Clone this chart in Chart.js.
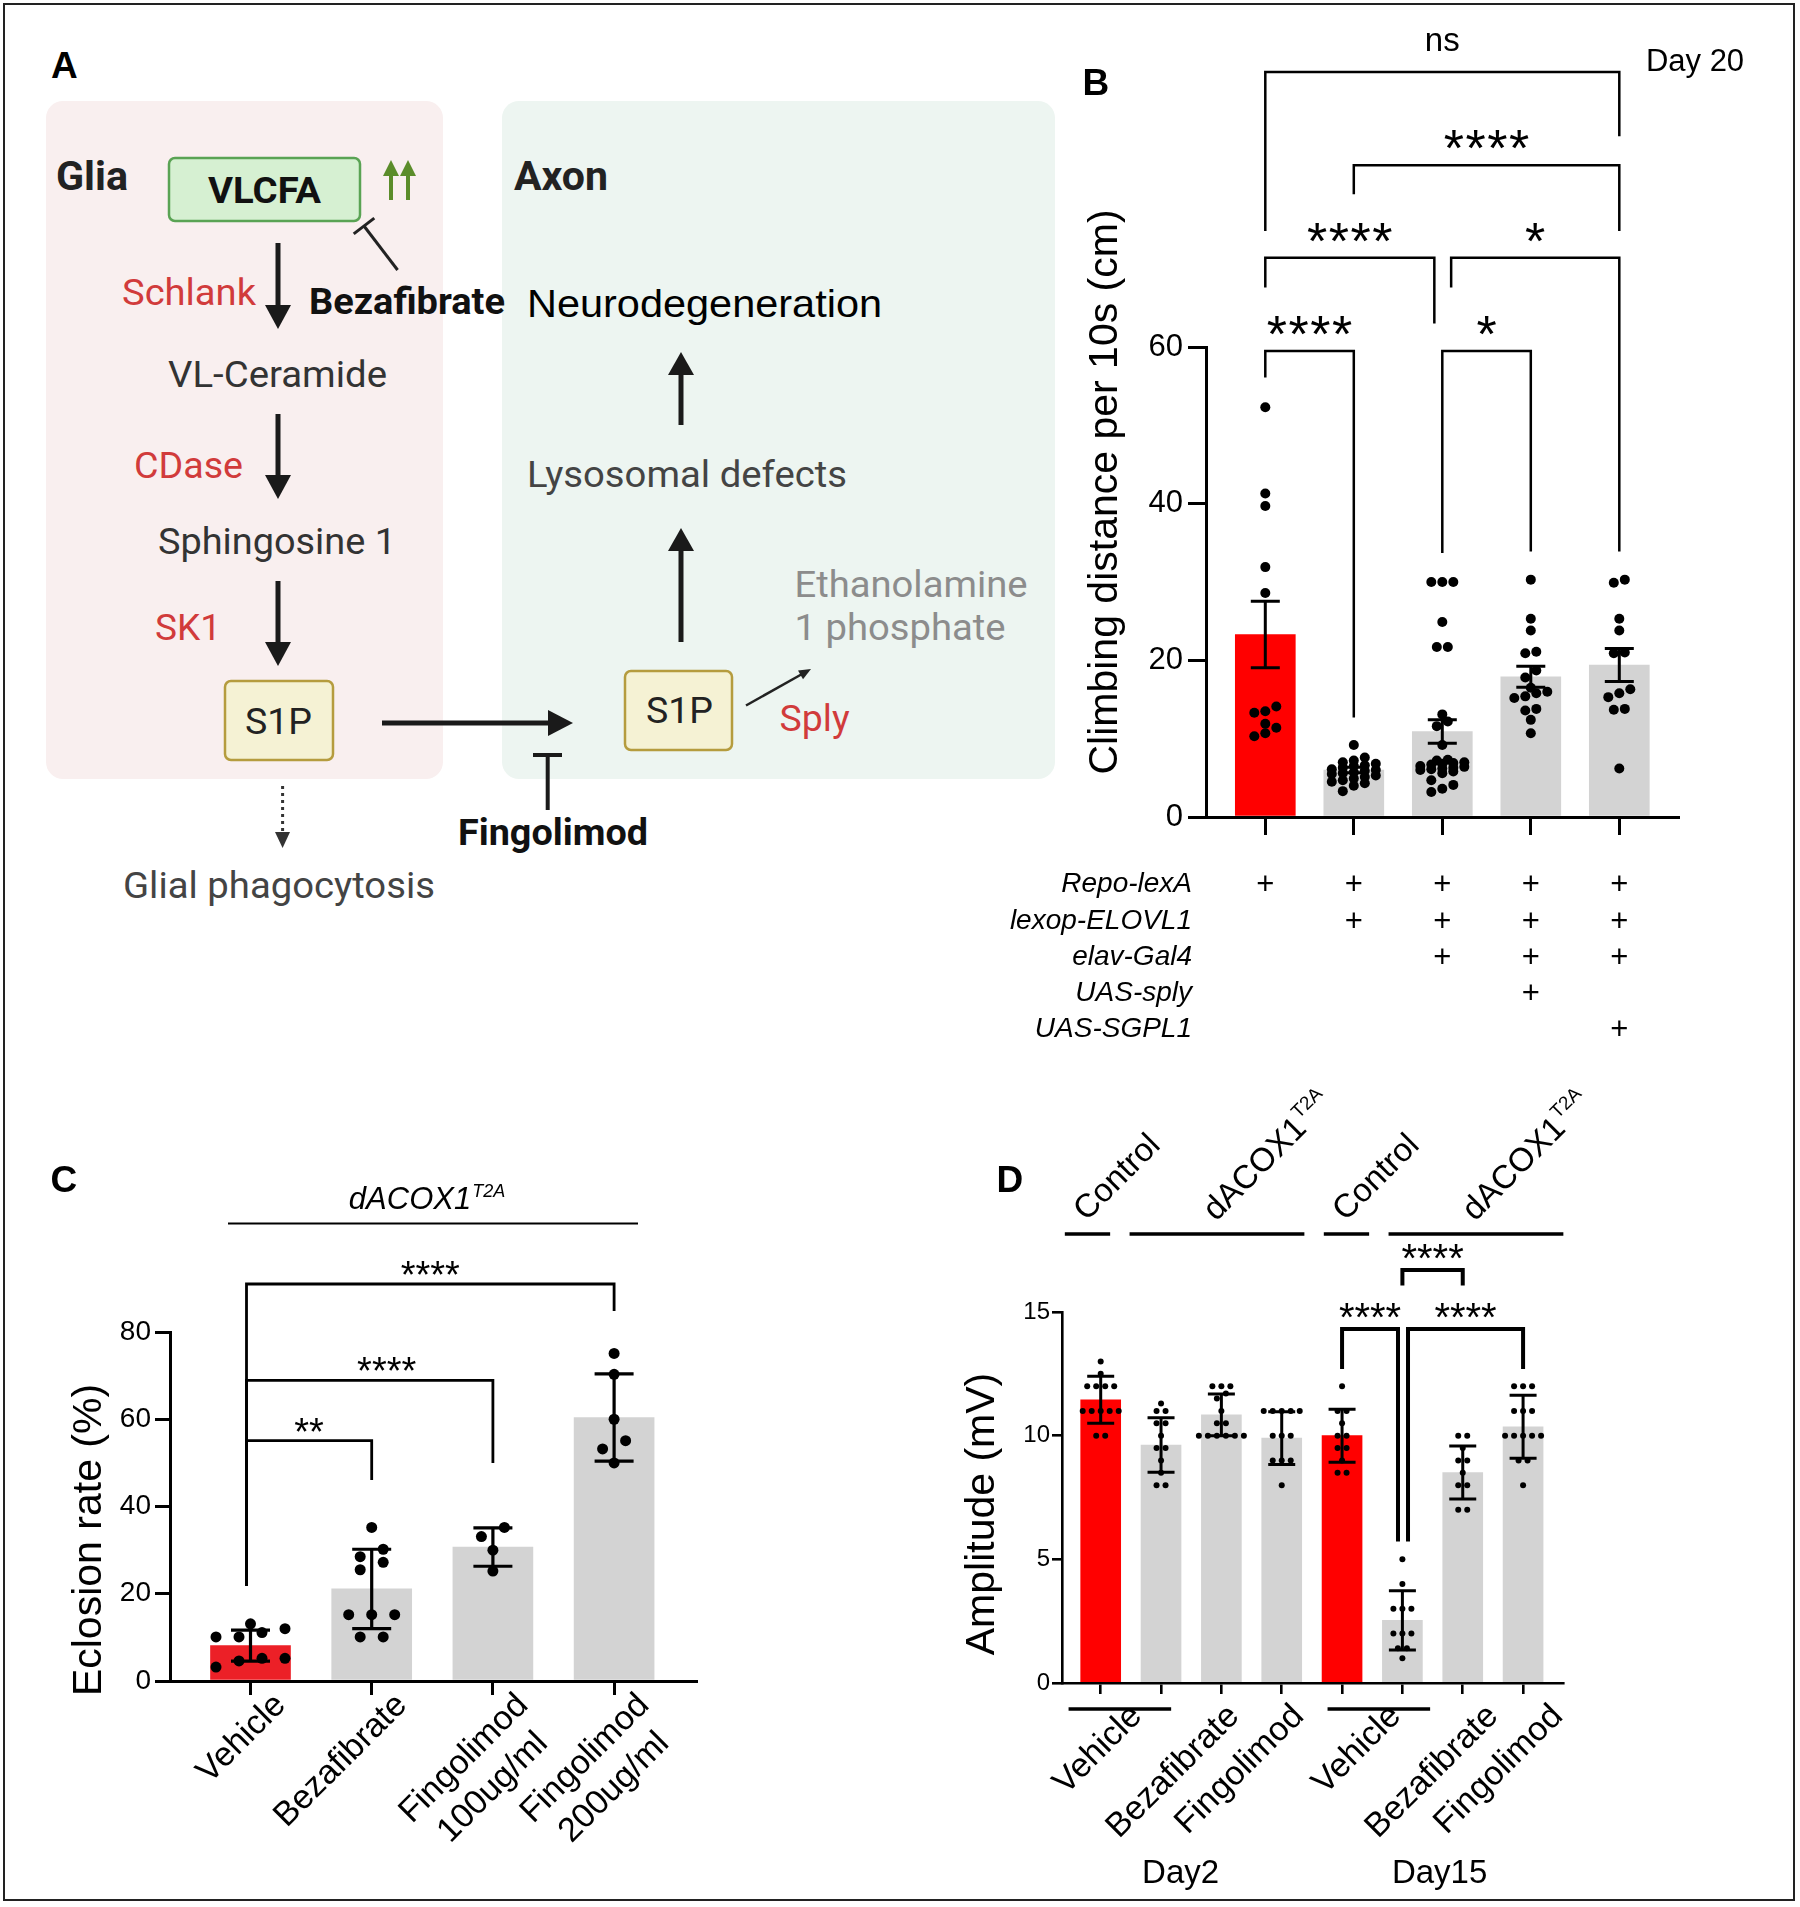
<!DOCTYPE html>
<html>
<head>
<meta charset="utf-8">
<script src="https://cdn.jsdelivr.net/npm/chart.js@4.4.1/dist/chart.umd.min.js"></script>
<style>
  html, body { margin: 0; padding: 0; background: #fff; }
  #fig { position: relative; width: 1800px; height: 1907px; background: #fff; overflow: hidden; }
  #frame { position: absolute; left: 3px; top: 3px; width: 1792px; height: 1898px; border: 2px solid #222; box-sizing: border-box; }
  canvas, svg { position: absolute; }
</style>
</head>
<body>
<div id="fig">
  <div id="frame"></div>

  <!-- panel A: pathway diagram -->
  <svg width="1060" height="920" style="left:0;top:0" font-family="Roboto, 'Noto Sans', sans-serif">
    <rect x="46" y="101" width="397" height="678" rx="17" fill="#f9efef"/>
    <rect x="502" y="101" width="553" height="678" rx="17" fill="#edf5f1"/>

    <text x="51" y="78" font-family="'Liberation Sans', Arial, sans-serif" font-weight="bold" font-size="37">A</text>
    <text x="56" y="190" font-weight="bold" font-size="40" fill="#222" textLength="72" lengthAdjust="spacingAndGlyphs">Glia</text>
    <text x="514" y="190" font-weight="bold" font-size="40" fill="#222" textLength="94" lengthAdjust="spacingAndGlyphs">Axon</text>

    <rect x="169" y="158" width="191" height="63" rx="6" fill="#d6f0d2" stroke="#5aa354" stroke-width="2.5"/>
    <text x="208" y="203" font-weight="bold" font-size="36" fill="#111" textLength="113" lengthAdjust="spacingAndGlyphs">VLCFA</text>

    <!-- green up arrows -->
    <g stroke="#5b8c2a" stroke-width="4" fill="#5b8c2a">
      <line x1="391" y1="200" x2="391" y2="172"/>
      <line x1="408" y1="200" x2="408" y2="172"/>
      <polygon points="383,176 399,176 391,160" stroke="none"/>
      <polygon points="400,176 416,176 408,160" stroke="none"/>
    </g>

    <!-- bezafibrate inhibition -->
    <g stroke="#222" stroke-width="3">
      <line x1="397.6" y1="270" x2="364" y2="226"/>
      <line x1="374.3" y1="218.1" x2="353.7" y2="233.9"/>
    </g>

    <text x="122" y="305" font-size="36" fill="#d13b3b" textLength="134" lengthAdjust="spacingAndGlyphs">Schlank</text>
    <text x="309" y="314" font-weight="bold" font-size="36" fill="#111" textLength="196" lengthAdjust="spacingAndGlyphs">Bezafibrate</text>
    <text x="168" y="387" font-size="37" fill="#333" textLength="219" lengthAdjust="spacingAndGlyphs">VL-Ceramide</text>
    <text x="134" y="478" font-size="36" fill="#d13b3b" textLength="109" lengthAdjust="spacingAndGlyphs">CDase</text>
    <text x="158" y="554" font-size="37" fill="#333" textLength="238" lengthAdjust="spacingAndGlyphs">Sphingosine 1</text>
    <text x="155" y="640" font-size="36" fill="#d13b3b" textLength="66" lengthAdjust="spacingAndGlyphs">SK1</text>

    <!-- vertical pathway arrows (glia) -->
    <g stroke="#1a1a1a" stroke-width="5" fill="#1a1a1a">
      <line x1="278" y1="243" x2="278" y2="310"/>
      <polygon points="265,305 291,305 278,329" stroke="none"/>
      <line x1="278" y1="414" x2="278" y2="480"/>
      <polygon points="265,475 291,475 278,499" stroke="none"/>
      <line x1="278" y1="581" x2="278" y2="647"/>
      <polygon points="265,642 291,642 278,666" stroke="none"/>
      <!-- axon arrows -->
      <line x1="681" y1="425" x2="681" y2="370"/>
      <polygon points="668,375 694,375 681,352" stroke="none"/>
      <line x1="681" y1="642" x2="681" y2="546"/>
      <polygon points="668,551 694,551 681,528" stroke="none"/>
      <!-- transport arrow -->
      <line x1="382" y1="723" x2="552" y2="723"/>
      <polygon points="548,710 548,736 573,723" stroke="none"/>
    </g>

    <rect x="225" y="681" width="108" height="79" rx="6" fill="#f5f2d4" stroke="#b59c3e" stroke-width="2.5"/>
    <text x="245" y="734" font-size="37" fill="#222" textLength="67" lengthAdjust="spacingAndGlyphs">S1P</text>
    <rect x="625" y="671" width="107" height="79" rx="6" fill="#f5f2d4" stroke="#b59c3e" stroke-width="2.5"/>
    <text x="646" y="723" font-size="37" fill="#222" textLength="67" lengthAdjust="spacingAndGlyphs">S1P</text>

    <!-- dotted arrow to phagocytosis -->
    <line x1="282.6" y1="786" x2="282.6" y2="834" stroke="#333" stroke-width="3" stroke-dasharray="3 4"/>
    <polygon points="275,832 290,832 282.6,848" fill="#333"/>
    <text x="123" y="898" font-size="37" fill="#444" textLength="312" lengthAdjust="spacingAndGlyphs">Glial phagocytosis</text>

    <!-- fingolimod inhibition -->
    <g stroke="#1a1a1a" stroke-width="4">
      <line x1="547.7" y1="810" x2="547.7" y2="755"/>
      <line x1="533" y1="755" x2="562" y2="755"/>
    </g>
    <text x="458" y="845" font-weight="bold" font-size="36" fill="#111" textLength="190" lengthAdjust="spacingAndGlyphs">Fingolimod</text>

    <text x="527" y="317" font-family="'Liberation Sans', Arial, sans-serif" font-size="39" fill="#000" textLength="355" lengthAdjust="spacingAndGlyphs">Neurodegeneration</text>
    <text x="527" y="487" font-size="37" fill="#444" textLength="320" lengthAdjust="spacingAndGlyphs">Lysosomal defects</text>
    <text x="794.5" y="597" font-size="37" fill="#8c8c8c" textLength="233" lengthAdjust="spacingAndGlyphs">Ethanolamine</text>
    <text x="794.5" y="640" font-size="37" fill="#8c8c8c" textLength="211" lengthAdjust="spacingAndGlyphs">1 phosphate</text>

    <line x1="746" y1="705.5" x2="803" y2="673.5" stroke="#222" stroke-width="2.5"/>
    <polygon points="803,679.3 798,670.5 811,669" fill="#222"/>
    <text x="779.6" y="731" font-size="36" fill="#d13b3b" textLength="70" lengthAdjust="spacingAndGlyphs">Sply</text>
  </svg>

  <canvas id="chartB" width="820" height="1070" style="left:980px;top:0"></canvas>
  <canvas id="chartC" width="740" height="800" style="left:0;top:1100px"></canvas>
  <canvas id="chartD" width="850" height="820" style="left:940px;top:1080px"></canvas>
</div>

<script>
// ---------- Panel B: climbing distance per 10 s at day 20 (mean ± SEM) ----------
const genotypeRowsB = ['Repo-lexA', 'lexop-ELOVL1', 'elav-Gal4', 'UAS-sply', 'UAS-SGPL1'];
const genotypeMarksB = [
  [1, 1, 1, 1, 1],
  [0, 1, 1, 1, 1],
  [0, 0, 1, 1, 1],
  [0, 0, 0, 1, 0],
  [0, 0, 0, 0, 1]
];
const meanB = [23.3, 6.0, 10.9, 17.9, 19.4];
const semB = [4.25, 0.35, 1.5, 1.35, 2.1];
const dotsB = [
  [52.3, 41.3, 39.7, 31.9, 28.6, 14.1, 13.5, 13.3, 11.9, 11.4, 10.7, 10.3],
  [9.2, 7.6, 7.2, 7.0, 6.8, 6.6, 6.5, 6.3, 6.1, 6.0, 5.9, 5.7, 5.6, 5.5, 5.3, 5.1, 4.9, 4.7, 4.5, 4.3, 4.0, 3.3],
  [30.0, 30.0, 30.0, 24.9, 21.7, 21.7, 13.1, 12.2, 11.6, 9.2, 7.3, 7.2, 7.0, 6.9, 6.8, 6.7, 6.5, 6.4, 6.3, 6.2, 6.1, 6.0, 5.8, 5.6, 4.7, 4.1, 3.6, 3.2],
  [30.3, 25.3, 23.8, 21.1, 20.9, 18.7, 17.8, 16.5, 16.0, 15.8, 15.4, 15.2, 13.8, 13.6, 12.4, 10.7],
  [30.3, 29.9, 25.3, 23.8, 21.0, 20.9, 16.3, 15.8, 15.3, 13.8, 13.7, 6.2]
];
const sigB = [
  { a: 0, b: 4, text: 'ns', top: 95.1, ya: 74.8, yb: 86.9 },
  { a: 1, b: 4, text: '****', top: 83.2, ya: 79.5, yb: 74.8 },
  { a: 0, b: 2, text: '****', top: 71.4, ya: 67.6, yb: 63.0, db: -0.09 },
  { a: 2, b: 4, text: '*', top: 71.4, ya: 67.6, yb: 33.9, da: 0.1 },
  { a: 0, b: 1, text: '****', top: 59.5, ya: 56.1, yb: 12.7 },
  { a: 2, b: 3, text: '*', top: 59.5, ya: 33.7, yb: 33.9 }
];

// ---------- Panel C: eclosion rate (mean ± SD) ----------
const treatmentsC = [['Vehicle'], ['Bezafibrate'], ['Fingolimod', '100ug/ml'], ['Fingolimod', '200ug/ml']];
const meanC = [8.1, 21.1, 30.7, 60.4];
const sdC = [3.55, 9.1, 4.4, 10.0];
const dotsC = [
  [13.1, 12.0, 11.1, 10.1, 10.1, 5.2, 5.2, 4.6, 3.2],
  [35.2, 30.2, 28.5, 27.2, 25.5, 15.2, 15.2, 15.2, 10.1, 10.1],
  [35.2, 33.1, 30.0, 25.2],
  [75.1, 70.3, 60.0, 55.1, 53.2, 50.0]
];
const sigC = [
  { a: 0, b: 3, text: '****', top: 91.0, ya: 21.8, yb: 84.8, da: -0.033 },
  { a: 0, b: 2, text: '****', top: 68.9, ya: 21.8, yb: 50.0, da: -0.033, tx: 0.14 },
  { a: 0, b: 1, text: '**', top: 55.1, ya: 21.8, yb: 46.1, da: -0.033 }
];

// ---------- Panel D: amplitude (mean ± SD) ----------
const dayD = ['Day2', 'Day2', 'Day2', 'Day2', 'Day15', 'Day15', 'Day15', 'Day15'];
const genotypeD = ['Control', 'dACOX1', 'dACOX1', 'dACOX1', 'Control', 'dACOX1', 'dACOX1', 'dACOX1'];
const treatmentD = ['Vehicle', 'Vehicle', 'Bezafibrate', 'Fingolimod', 'Vehicle', 'Vehicle', 'Bezafibrate', 'Fingolimod'];
const meanD = [11.45, 9.62, 10.84, 9.9, 10.0, 2.53, 8.51, 10.36];
const sdD = [0.95, 1.1, 0.84, 1.07, 1.07, 1.2, 1.07, 1.27];
const dotsD = [
  [13.0, 12.5, 12, 12, 12, 12, 11, 11, 11, 11, 11, 10, 10],
  [11.3, 11.0, 11.0, 10.5, 10.5, 10.0, 9.5, 9.5, 9.0, 8.5, 8.0, 8.0],
  [12, 12, 12, 11.7, 11.5, 11.0, 10.5, 10.5, 10, 10, 10, 10, 10, 10],
  [11, 11, 11, 11, 11, 10, 10, 10, 9, 9, 9, 8],
  [12, 11, 11, 10.5, 10, 10, 9.5, 9.5, 9, 8.5, 8.5],
  [5, 4, 3, 3, 3, 2, 2, 2, 1.4, 1.4, 1],
  [10, 10, 9.5, 9, 9, 8.5, 8, 8, 7, 7],
  [12, 12, 12, 11, 11, 11, 10, 10, 10, 10, 10, 9, 9, 8]
];
const sigD = [
  { a: 5, b: 6, text: '****', top: 16.7, ya: 16.07, yb: 16.07 },
  { a: 4, b: 5, text: '****', top: 14.31, ya: 12.7, yb: 5.72, db: -0.073 },
  { a: 5, b: 7, text: '****', top: 14.31, ya: 5.72, yb: 12.7, da: 0.093 }
];
const mutantAllele = 'T2A';

const RED = '#ff0000';
const RED_C = '#ec2027';
const GREY = '#d3d3d3';
const SANS = "'Liberation Sans', Arial, Helvetica, sans-serif";
const f = (size, extra = '') => `${extra} ${size}px ${SANS}`.trim();

// groups close values into centred rows, like a column scatter plot
function swarm(values, o) {
  const order = values.map((v, i) => i).sort((p, q) => values[p] - values[q]);
  const off = new Array(values.length).fill(0);
  let row = [];
  const flush = () => {
    row.forEach((k, j) => { off[k] = (j - (row.length - 1) / 2) * o.step / o.pxPerCat; });
    row = [];
  };
  order.forEach(k => {
    if (row.length && ((values[k] - values[row[0]]) * o.pxPerUnit >= o.rowPx || row.length >= o.maxRow)) flush();
    row.push(k);
  });
  flush();
  return off;
}

function txt(ctx, s, x, y, font, opt = {}) {
  ctx.save();
  ctx.font = font;
  ctx.fillStyle = opt.color || '#000';
  ctx.textAlign = opt.align || 'center';
  ctx.textBaseline = opt.base || 'alphabetic';
  ctx.translate(x, y);
  if (opt.rot) ctx.rotate(opt.rot);
  ctx.fillText(s, 0, 0);
  ctx.restore();
}

function spaced(ctx, s, cx, y, font, gap) {
  ctx.save();
  ctx.font = font;
  ctx.fillStyle = '#000';
  ctx.textAlign = 'left';
  ctx.textBaseline = 'alphabetic';
  const chars = [...s];
  const ws = chars.map(ch => ctx.measureText(ch).width);
  let x = cx - (ws.reduce((p, q) => p + q, 0) + gap * (chars.length - 1)) / 2;
  chars.forEach((ch, i) => { ctx.fillText(ch, x, y); x += ws[i] + gap; });
  ctx.restore();
}

function drawErrorBars(chart, means, errs, cap, lw) {
  const { ctx, scales: { x, y } } = chart;
  ctx.save();
  ctx.strokeStyle = '#000';
  ctx.lineWidth = lw;
  means.forEach((m, i) => {
    const px = x.getPixelForValue(i);
    const top = y.getPixelForValue(m + errs[i]);
    const bot = y.getPixelForValue(m - errs[i]);
    ctx.beginPath();
    ctx.moveTo(px, top); ctx.lineTo(px, bot);
    ctx.moveTo(px - cap, top); ctx.lineTo(px + cap, top);
    ctx.moveTo(px - cap, bot); ctx.lineTo(px + cap, bot);
    ctx.stroke();
  });
  ctx.restore();
}

function drawBrackets(chart, list, o) {
  const { ctx, scales: { x, y } } = chart;
  list.forEach(b => {
    const xa = x.getPixelForValue(b.a + (b.da || 0));
    const xb = x.getPixelForValue(b.b + (b.db || 0));
    const yt = y.getPixelForValue(b.top);
    ctx.save();
    ctx.strokeStyle = '#000';
    ctx.lineWidth = o.lw;
    ctx.lineJoin = 'miter';
    ctx.beginPath();
    ctx.moveTo(xa, y.getPixelForValue(b.ya));
    ctx.lineTo(xa, yt);
    ctx.lineTo(xb, yt);
    ctx.lineTo(xb, y.getPixelForValue(b.yb));
    ctx.stroke();
    ctx.restore();
    const cx = (xa + xb) / 2 + (b.tx || 0) * o.pxPerCat;
    if (b.text === 'ns') txt(ctx, 'ns', cx, yt + o.nsDy, o.nsFont);
    else spaced(ctx, b.text, cx, yt + o.starDy, o.starFont, o.gap);
  });
}

// rotated (-45°) label whose right end sits at the anchor; extra lines centred under the first
function rotLabel(ctx, lines, ax, ay, font, lh) {
  ctx.save();
  ctx.font = font;
  ctx.fillStyle = '#000';
  ctx.translate(ax, ay);
  ctx.rotate(-Math.PI / 4);
  const mw = Math.max(...lines.map(l => ctx.measureText(l).width));
  ctx.textAlign = 'center';
  ctx.textBaseline = 'middle';
  lines.forEach((l, i) => ctx.fillText(l, -mw / 2, i * lh));
  ctx.restore();
}

function runs(arr, key) {
  const out = [];
  arr.forEach((v, i) => {
    const last = out[out.length - 1];
    if (last && last.label === v && key[last.to] === key[i]) last.to = i;
    else out.push({ label: v, from: i, to: i });
  });
  return out;
}

// bar + dot chart on a linear x axis so the plot box can be placed freely
function barDotChart(id, o) {
  const a = o.area;
  const xMin = -(o.firstCenter - a.l) / o.step;
  const xMax = xMin + (a.r - a.l) / o.step;
  const canvas = document.getElementById(id);
  const sw = Object.assign({ pxPerUnit: (a.b - a.t) / o.yMax, pxPerCat: o.step }, o.swarm);
  const dots = o.dots.flatMap((vals, i) => {
    const off = swarm(vals, sw);
    return vals.map((v, k) => ({ x: i + off[k], y: v }));
  });
  return new Chart(canvas, {
    type: 'bar',
    data: {
      datasets: [
        {
          type: 'scatter', order: 1, data: dots, clip: false,
          pointRadius: o.dotR, pointHoverRadius: o.dotR, backgroundColor: '#000', borderWidth: 0
        },
        {
          order: 2, data: o.means.map((m, i) => ({ x: i, y: m })),
          barThickness: o.barW, borderWidth: 0,
          backgroundColor: c => o.colorOf(c.dataIndex)
        }
      ]
    },
    options: {
      responsive: false, animation: false, devicePixelRatio: 1,
      layout: { padding: { left: 0, top: a.t, right: canvas.width - a.r, bottom: canvas.height - a.b - 20 } },
      plugins: { legend: { display: false }, tooltip: { enabled: false } },
      scales: {
        x: {
          type: 'linear', min: xMin, max: xMax, offset: false, bounds: 'data',
          afterFit: s => { s.height = 20; },
          afterBuildTicks: s => { s.ticks = o.means.map((m, i) => ({ value: i })); },
          ticks: { display: false },
          grid: { offset: false, drawOnChartArea: false, color: '#000', lineWidth: o.axisW, tickLength: o.xTick },
          border: { color: '#000', width: o.axisW }
        },
        y: {
          min: 0, max: o.yMax,
          afterFit: s => { s.width = a.l; },
          ticks: { stepSize: o.yStep, color: '#000', padding: o.yPad, font: { family: SANS, size: o.yFont } },
          grid: { drawOnChartArea: false, color: '#000', lineWidth: o.axisW, tickLength: o.yTick },
          border: { color: '#000', width: o.axisW }
        }
      }
    },
    plugins: [{
      id: 'stats',
      afterDatasetsDraw: c => drawErrorBars(c, o.means, o.errs, o.cap, o.errW),
      afterDraw: c => o.draw(c)
    }]
  });
}

// ---- B (canvas origin x = 980) ----
barDotChart('chartB', {
  area: { l: 226, t: 347, r: 698, b: 817 }, firstCenter: 285.3, step: 88.5,
  yMax: 60, yStep: 20, yFont: 31, yPad: 5, yTick: 18, xTick: 18, axisW: 3,
  means: meanB, errs: semB, dots: dotsB, barW: 60, dotR: 5, cap: 14.5, errW: 3,
  swarm: { rowPx: 9, step: 11, maxRow: 5 },
  colorOf: i => (i === 0 ? RED : GREY),
  draw: c => {
    const { ctx, scales: { x } } = c;
    txt(ctx, 'B', 102.6, 95, f(37, 'bold'), { align: 'left' });
    txt(ctx, 'Day 20', 715, 71, f(31));
    txt(ctx, 'Climbing distance per 10s (cm)', 126, 492, f(41), { rot: -Math.PI / 2, base: 'middle' });
    drawBrackets(c, sigB, { lw: 2.5, pxPerCat: 88.5, starFont: f(52), gap: 1.5, starDy: 1, nsFont: f(33), nsDy: -21 });
    const rowY = [884, 921, 957, 993, 1029];
    genotypeRowsB.forEach((g, r) => {
      txt(ctx, g, 212, rowY[r], f(28, 'italic'), { align: 'right', base: 'middle' });
      genotypeMarksB[r].forEach((m, i) => {
        if (m) txt(ctx, '+', x.getPixelForValue(i), rowY[r] + 1, f(31), { base: 'middle' });
      });
    });
  }
});

// ---- C (canvas origin y = 1100) ----
barDotChart('chartC', {
  area: { l: 170, t: 232, r: 696, b: 581 }, firstCenter: 250.5, step: 121.2,
  yMax: 80, yStep: 20, yFont: 28, yPad: 4, yTick: 15, xTick: 14, axisW: 3,
  means: meanC, errs: sdC, dots: dotsC, barW: 80, dotR: 5.5, cap: 19.5, errW: 3.2,
  swarm: { rowPx: 12, step: 23, maxRow: 5 },
  colorOf: i => (i === 0 ? RED_C : GREY),
  draw: c => {
    const { ctx, scales: { x } } = c;
    txt(ctx, 'C', 50.5, 92, f(37, 'bold'), { align: 'left' });
    // genotype header
    ctx.save();
    ctx.font = f(31, 'italic');
    const w1 = ctx.measureText('dACOX1').width;
    ctx.font = f(18, 'italic');
    const w2 = ctx.measureText(mutantAllele).width;
    ctx.restore();
    const x0 = 427 - (w1 + w2 + 1) / 2;
    txt(ctx, 'dACOX1', x0, 109, f(31, 'italic'), { align: 'left' });
    txt(ctx, mutantAllele, x0 + w1 + 1, 97, f(18, 'italic'), { align: 'left' });
    ctx.save();
    ctx.strokeStyle = '#000'; ctx.lineWidth = 2;
    ctx.beginPath(); ctx.moveTo(228, 123.5); ctx.lineTo(638, 123.5); ctx.stroke();
    ctx.restore();
    txt(ctx, 'Eclosion rate (%)', 90, 440, f(41), { rot: -Math.PI / 2, base: 'middle' });
    drawBrackets(c, sigC, { lw: 2.8, pxPerCat: 121.2, starFont: f(38), gap: 0, starDy: 4 });
    treatmentsC.forEach((lines, i) => {
      rotLabel(ctx, lines, x.getPixelForValue(i) + 30, 581 + 19, f(34), 41);
    });
  }
});

// ---- D (canvas origin 940, 1080) ----
barDotChart('chartD', {
  area: { l: 122, t: 232, r: 623, b: 603 }, firstCenter: 160.7, step: 60.34,
  yMax: 15, yStep: 5, yFont: 24, yPad: 2, yTick: 10, xTick: 11, axisW: 2.6,
  means: meanD, errs: sdD, dots: dotsD, barW: 40, dotR: 3, cap: 13.5, errW: 3,
  swarm: { rowPx: 5, step: 9, maxRow: 6 },
  colorOf: i => (treatmentD[i] === 'Vehicle' && genotypeD[i] === 'Control' ? RED : GREY),
  draw: c => {
    const { ctx, scales: { x } } = c;
    const px = v => x.getPixelForValue(v);
    // the group annotations are laid out slightly wider than the bars, around the 4th column
    const pivot = px(3);
    const spread = v => pivot + (px(v) - pivot) * 1.073;
    txt(ctx, 'D', 56.5, 112, f(37, 'bold'), { align: 'left' });
    txt(ctx, 'Amplitude (mV)', 43, 434, f(41), { rot: -Math.PI / 2, base: 'middle' });
    ctx.save();
    ctx.strokeStyle = '#000'; ctx.lineWidth = 3.5;
    // genotype groups on top
    runs(genotypeD, dayD).forEach(g => {
      const mid = spread((g.from + g.to) / 2);
      const half = ((g.to - g.from + 1) * 0.5 - 0.15) * 60.34 * 1.073;
      ctx.beginPath(); ctx.moveTo(mid - half, 154); ctx.lineTo(mid + half, 154); ctx.stroke();
      ctx.save();
      ctx.translate(mid - 1, 142);
      ctx.rotate(-Math.PI / 4);
      ctx.font = f(33); ctx.fillStyle = '#000'; ctx.textAlign = 'left'; ctx.textBaseline = 'alphabetic';
      ctx.fillText(g.label, 0, 0);
      if (g.label !== 'Control') {
        const w = ctx.measureText(g.label).width;
        ctx.font = f(19);
        ctx.fillText(mutantAllele, w + 1, -14);
      }
      ctx.restore();
    });
    // treatments below the axis
    runs(treatmentD, dayD).forEach(g => {
      const mid = spread((g.from + g.to) / 2);
      if (g.to > g.from) {
        const half = ((g.to - g.from + 1) * 0.5 - 0.15) * 60.34;
        ctx.beginPath(); ctx.moveTo(mid - half, 629); ctx.lineTo(mid + half, 629); ctx.stroke();
      }
      rotLabel(ctx, [g.label], mid + 17, 603 + 28, f(34), 40);
    });
    ctx.restore();
    runs(dayD, dayD).forEach(g => txt(ctx, g.label, spread((g.from + g.to) / 2) - 4, 803, f(33)));
    drawBrackets(c, sigD, { lw: 4, pxPerCat: 60.34, starFont: f(40), gap: 0, starDy: 2 });
  }
});
</script>
</body>
</html>
